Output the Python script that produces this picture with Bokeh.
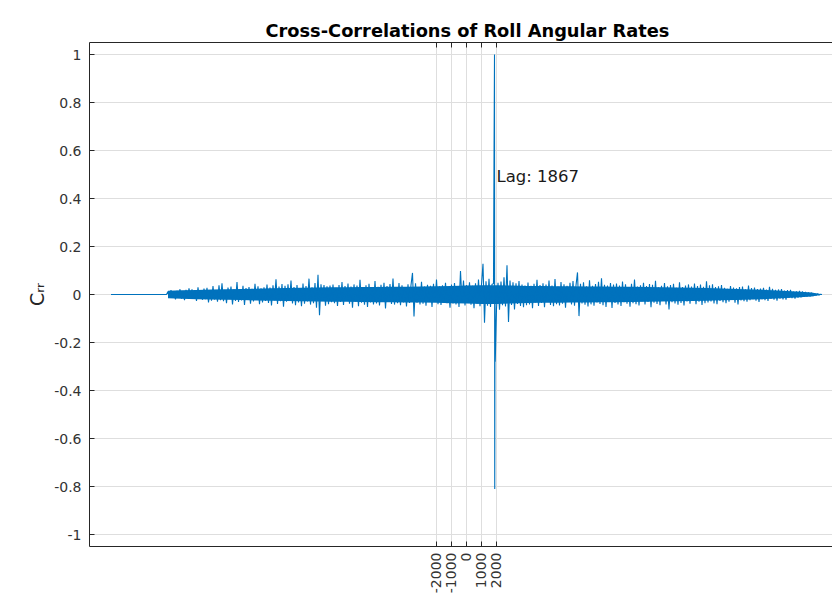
import numpy as np
from bokeh.plotting import figure
from bokeh.models import Range1d, FixedTicker, LinearAxis, Label, ColumnDataSource
from bokeh.embed import file_html
from bokeh.resources import INLINE

# ---------------- data ----------------
title_text = "Cross-Correlations of Roll Angular Rates"
ylabel_text = "C\u1d63\u1d63"   # C with subscript rr
peak_text = "Lag: 1867"
peak_lag = 1867

x_ticks = [-2000, -1000, 0, 1000, 2000]
x_tick_labels = ["-2000", "-1000", "0", "1000", "2000"]
y_ticks = [-1, -0.8, -0.6, -0.4, -0.2, 0, 0.2, 0.4, 0.6, 0.8, 1]
y_tick_labels = ["-1", "-0.8", "-0.6", "-0.4", "-0.2", "0", "0.2", "0.4", "0.6", "0.8", "1"]

# zero-padded part at the left end and the last lag
pad_lags = [-23700, -20000]
pad_vals = [0.0, 0.0]
tail_lags = [23700]
tail_vals = [0.0]

# noisy part, one value every 100 lags from -19900 to 23600 (values in 1/1000)
noise_start, noise_step = -19900, 100
noise_vals_milli = [
    12, -9, 18, -14, 7, -20, 15, -11, 22, -17, 9, -24, 19, -13, 26, -8, 21, -18, 14, -27, 30, -16, 12, -22, 25,
    -19, 28, -33, 17, -26, 35, -21, 14, -30, 38, -24, 47, -28, 19, -36, 29, -15, 33, -41, 22,
    -27, 52, -31, 18, -25, 36, -44, 27, -20, 31, -38, 24, -29, 45, -22, 34, -40, 26, -33, 30,
    -27, 41, -35, 29, -46, 38, -24, 63, -39, 33, -28, 44, -51, 36, -30, 42, -26, 58, -37, 31,
    -45, 39, -33, 27, -49, 46, -38, 35, -29, 66, -42, 30, -36, 48, -55, 82, -86, 43, -27, 39,
    -47, 34, -40, 37, -32,
    41, -36, 28, -48, 39, -31, 52, -44, 35, -27,
    46, -38, 33, -55, 42, -29, 37, -49, 61, -34,
    30, -43, 38, -52, 45, -33, 28, -41, 56, -37,
    32, -46, 40, -30, 49, -58, 35, -27, 44, -39,
    67, -42, 31, -36, 48, -45, 38, -33, 29, -50,
    43, -35, 39, 90, -92, 47, -34, 28, -41, 53,
    -38, 33, -47, 40, -29, 36, -52, 45, -31, 62,
    -40, 34, -44, 38, -27, 49, -36, 31, -55, 42,
    -37, 48, -41, 35, -52, 98, -30, 58, -46, 39,
    -33, 51, -43, 36, -57, 47, -38, 62, -49, 41,
    128, -118, 55, -47, 66, -52, 43, 45, 30, -58,
    49, -63, 54, -45, 72, -50, 122, -115, 58, -44,
    51, -62, 47, -39, 56, -48, 42, -53, 37, -45,
    50, -42, 36, -57, 45, -33, 61, -48, 39, -35,
    47, -53, 41, -30, 58, -44, 37, -49, 64, -40,
    33, -46, 52, -38, 43, -55, 36, -31, 49, -42,
    56, -47, 38, 92, -90, 45, -37, 51, -43, 34,
    -50, 59, -41, 36, -47, 44, -33, 53, -39, 68,
    -45, 40, -52, 37, -30, 48, -56, 42, -35, 46,
    -41, 37, -48, 54, -32, 43, -38, 29, -51, 45,
    -36, 62, -40, 33, -46, 38, -28, 49, -42, 35,
    -31, 44, -53, 40, -34, 57, -39, 30, -45, 36,
    -27, 48, -41, 34, -62, 39, -32, 45, -37, 28,
    -43, 51, -35, 31, -46, 37, -29, 42, -38, 33,
    -26, 46, -40, 35, -30, 41, -44, 32, -36, 55,
    -33, 38, -29, 43, -37, 31, -40, 34, -27, 39,
    -32, 28, -36, 24, -30, 35, -22, 29, -34, 26,
    -41, 31, -25, 33, -28, 22, -30, 37, -24, 27,
    -20, 29, -26, 23, -31, 25, -19, 28, -24, 21,
    -27, 32, -18, 24, -22, 19, -26, 21, -17, 23,
    -20, 16, -22, 18, -14, 19, -15, 12, -17, 13,
    -13, 15, -12, 13, -10, 11, -9, 9, -8, 7,
    -6, 5, -4, 3, -2, 1,
]

# dense core of the band (where the samples fill it solid), values in 1/1000
core_lags = [-19900, -19000, -18000, -17000, -16000, -15000, -14000, -13000, -12000, -11000,
             -10000, -9000, -8000, -7000, -6000, -5000, -4000, -3000, -2000, -1000,
             0, 1000, 2000, 3000, 4000, 5000, 6000, 7000, 8000, 9000,
             10000, 11000, 12000, 13000, 14000, 15000, 16000, 17000, 18000, 19000,
             20000, 21000, 22000, 23000, 23600]
core_upper_milli = [16, 18, 19, 21, 22, 23, 24, 26, 27, 28, 29, 30, 30, 31, 31, 32, 32, 33, 34, 35,
                    37, 39, 39, 37, 35, 35, 34, 34, 33, 33, 32, 32, 31, 30, 29, 28, 27, 25, 23, 21,
                    19, 16, 13, 8, 2]
core_lower_milli = [-16, -18, -20, -21, -22, -23, -25, -26, -27, -28, -29, -30, -30, -31, -32, -32, -33, -33, -34, -36,
                    -38, -40, -40, -37, -35, -34, -34, -33, -33, -32, -32, -31, -30, -29, -28, -27, -26, -24, -23, -21,
                    -19, -16, -13, -8, -2]

# the correlation peak samples
peak_lags = [1833, 1867, 1883, 1917]
peak_vals = [0.55, 1.0, -0.81, -0.28]

# ---------------- assemble ----------------
noise_lags = noise_start + noise_step * np.arange(len(noise_vals_milli))
noise_vals = np.array(noise_vals_milli, dtype=float) / 1000.0

all_lags = np.concatenate([pad_lags, noise_lags, peak_lags, tail_lags]).astype(float)
all_vals = np.concatenate([pad_vals, noise_vals, peak_vals, tail_vals])
order = np.argsort(all_lags, kind="stable")
src = ColumnDataSource(dict(lag=all_lags[order], c=all_vals[order]))
core_src = ColumnDataSource(dict(lag=core_lags,
                                 lo=np.array(core_lower_milli) / 1000.0,
                                 hi=np.array(core_upper_milli) / 1000.0))

X0, X1 = -25133, 24400
Y0, Y1 = -1.05, 1.05
AX = "#262626"
GRID = "#dedede"
TICKC = "#333333"
FONT = "DejaVu Sans"
BLUE = "#0072BD"

p = figure(width=832, height=600, x_range=Range1d(X0, X1), y_range=Range1d(Y0, Y1),
           output_backend="svg", toolbar_location=None,
           min_border_left=89, min_border_right=0, min_border_top=42, min_border_bottom=54)
p.outline_line_color = None
p.background_fill_color = "white"
p.border_fill_color = "white"

p.varea(x="lag", y1="lo", y2="hi", source=core_src, fill_color=BLUE)
p.line("lag", "c", source=src, line_color=BLUE, line_width=1.1)

# title
p.title.text = title_text
p.title.align = "left"
p.title.offset = 176
p.title.text_font = FONT
p.title.text_font_style = "bold"
p.title.text_font_size = "17.8px"
p.title.text_color = "#000000"
p.title.standoff = 4

# bottom x axis
p.xaxis.ticker = FixedTicker(ticks=x_ticks)
p.xaxis.major_label_overrides = {t: s for t, s in zip(x_ticks, x_tick_labels)}
p.xaxis.major_label_orientation = np.pi / 2
p.xaxis.major_label_text_font = FONT
p.xaxis.major_label_text_font_size = "14px"
p.xaxis.major_label_text_color = TICKC
p.xaxis.major_label_standoff = 6
p.xaxis.major_tick_in = 5
p.xaxis.major_tick_out = 0
p.xaxis.minor_tick_line_color = None
p.xaxis.axis_line_color = AX
p.xaxis.major_tick_line_color = AX

# left y axis
p.yaxis.ticker = FixedTicker(ticks=y_ticks)
p.yaxis.major_label_overrides = {t: s for t, s in zip(y_ticks, y_tick_labels)}
p.yaxis.major_label_text_font = FONT
p.yaxis.major_label_text_font_size = "14px"
p.yaxis.major_label_text_color = TICKC
p.yaxis.major_label_standoff = 8
p.yaxis.major_tick_in = 5
p.yaxis.major_tick_out = 0
p.yaxis.minor_tick_line_color = None
p.yaxis.axis_line_color = AX
p.yaxis.major_tick_line_color = AX
p.yaxis.axis_label = ylabel_text
p.yaxis.axis_label_text_font = FONT
p.yaxis.axis_label_text_font_style = "normal"
p.yaxis.axis_label_text_font_size = "19px"
p.yaxis.axis_label_text_color = AX
p.yaxis.axis_label_standoff = 3

# top axis: box edge with inward ticks, no labels
top = LinearAxis(ticker=FixedTicker(ticks=x_ticks),
                 major_label_overrides={t: "" for t in x_ticks},
                 major_label_standoff=0, major_tick_in=5, major_tick_out=0,
                 minor_tick_line_color=None, axis_line_color=AX, major_tick_line_color=AX)
p.add_layout(top, "above")

p.xgrid.ticker = FixedTicker(ticks=x_ticks)
p.ygrid.ticker = FixedTicker(ticks=y_ticks)
p.xgrid.grid_line_color = GRID
p.ygrid.grid_line_color = GRID

# peak annotation
p.add_layout(Label(x=peak_lag, y=0.49, x_offset=2, text=peak_text, text_align="left",
                   text_baseline="middle", text_font=FONT, text_font_size="16.5px",
                   text_color="#1a1a1a"))

open("out.html", "w").write(file_html(p, INLINE))
